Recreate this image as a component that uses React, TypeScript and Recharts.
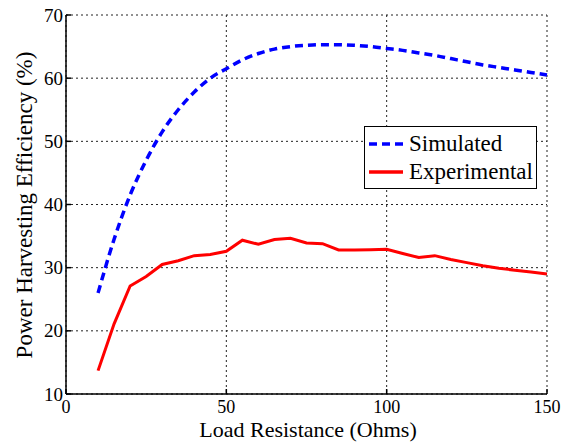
import React from 'react';
import { LineChart, Line, XAxis, YAxis, CartesianGrid, Legend } from 'recharts';

const resistance = [10, 15, 20, 25, 30, 35, 40, 45, 50, 55, 60, 65, 70, 75, 80, 85, 90, 95, 100, 105, 110, 115, 120, 125, 130, 135, 140, 145, 150];
const simulated = [26, 34.5, 41.5, 47, 51.5, 55, 57.8, 60, 61.5, 62.9, 63.9, 64.6, 65.0, 65.2, 65.3, 65.3, 65.2, 65.0, 64.7, 64.4, 64.0, 63.6, 63.1, 62.6, 62.1, 61.7, 61.3, 60.9, 60.5];
const experimental = [13.7, 21.1, 27.1, 28.6, 30.5, 31.1, 31.9, 32.1, 32.6, 34.35, 33.7, 34.45, 34.65, 33.9, 33.8, 32.8, 32.8, 32.85, 32.9, 32.25, 31.6, 31.9, 31.3, 30.8, 30.3, 29.9, 29.6, 29.3, 29.0];
const xTicks = [0, 50, 100, 150];
const yTicks = [10, 20, 30, 40, 50, 60, 70];

const data = resistance.map((r, i) => ({ r, sim: simulated[i], exp: experimental[i] }));

const FONT = 'Liberation Serif';

const seriesStyle: Record<string, { color: string; dash?: string }> = {
  Simulated: { color: '#0000ff', dash: '8 5' },
  Experimental: { color: '#ff0000' },
};

// matlab-ish tick labels, drawn by hand so the serif font sticks
const XTick = (p: any) => (
  <text x={p.x} y={p.y + 9} textAnchor="middle" fontFamily={FONT} fontSize={18} fill="#000">
    {p.payload.value}
  </text>
);
const YTick = (p: any) => (
  <text x={p.x} y={p.y + 6.5} textAnchor="end" fontFamily={FONT} fontSize={19} fill="#000">
    {p.payload.value}
  </text>
);

const LegendBox = () => (
  <div style={{
    width: 173, height: 63, boxSizing: 'border-box', border: '1px solid #000', background: '#fff',
    fontFamily: FONT, fontSize: 23, color: '#000', paddingTop: 3,
  }}>
    {['Simulated', 'Experimental'].map(name => (
      <div key={name} style={{ display: 'flex', alignItems: 'center', height: 28, lineHeight: '28px' }}>
        <svg width={38} height={10} style={{ marginLeft: 4, marginRight: 2 }}>
          <line x1={0} y1={5} x2={34} y2={5} stroke={seriesStyle[name].color} strokeWidth={3.5}
            strokeDasharray={seriesStyle[name].dash} />
        </svg>
        <span style={{ fontFamily: FONT }}>{name}</span>
      </div>
    ))}
  </div>
);

export default function App() {
  return (
    <div style={{ position: 'absolute', left: 0, top: 0, background: '#fff', fontFamily: FONT }}>
      <LineChart width={567} height={442} data={data} margin={{ top: 15, right: 20, bottom: 0, left: 0 }}>
        <CartesianGrid stroke="#222" strokeDasharray="2 3" />
        <XAxis
          type="number" dataKey="r" domain={[0, 150]} ticks={xTicks} height={48}
          stroke="#000" strokeWidth={1.5} tickSize={-5} tickMargin={15}
          tick={XTick}
          label={() => (
            <text x={308} y={437} textAnchor="middle" fontFamily={FONT} fontSize={22} fill="#000">
              Load Resistance (Ohms)
            </text>
          )}
        />
        <XAxis xAxisId="top" orientation="top" type="number" dataKey="r" domain={[0, 150]} ticks={xTicks}
          height={0} stroke="#000" strokeWidth={1.5} tickSize={-5} tick={() => <g />} />
        <YAxis
          type="number" domain={[10, 70]} ticks={yTicks} width={66}
          stroke="#000" strokeWidth={1.5} tickSize={-5} tickMargin={8}
          tick={YTick}
          label={() => (
            <text transform="translate(32,205) rotate(-90)" textAnchor="middle" fontFamily={FONT} fontSize={23} fill="#000">
              Power Harvesting Efficiency (%)
            </text>
          )}
        />
        <YAxis yAxisId="right" orientation="right" type="number" domain={[10, 70]} ticks={yTicks}
          width={0} stroke="#000" strokeWidth={1.5} tickSize={-5} tick={() => <g />} />
        <Legend layout="vertical" align="center" verticalAlign="middle"
          wrapperStyle={{ left: 364, top: 126, width: 173, height: 63 }} content={() => <LegendBox />} />
        <Line dataKey="sim" name="Simulated" type="monotone" stroke="#0000ff" strokeWidth={3.5}
          strokeDasharray="8 5" dot={false} isAnimationActive={false} />
        <Line dataKey="exp" name="Experimental" type="linear" stroke="#ff0000" strokeWidth={3}
          dot={false} isAnimationActive={false} />
      </LineChart>
    </div>
  );
}
